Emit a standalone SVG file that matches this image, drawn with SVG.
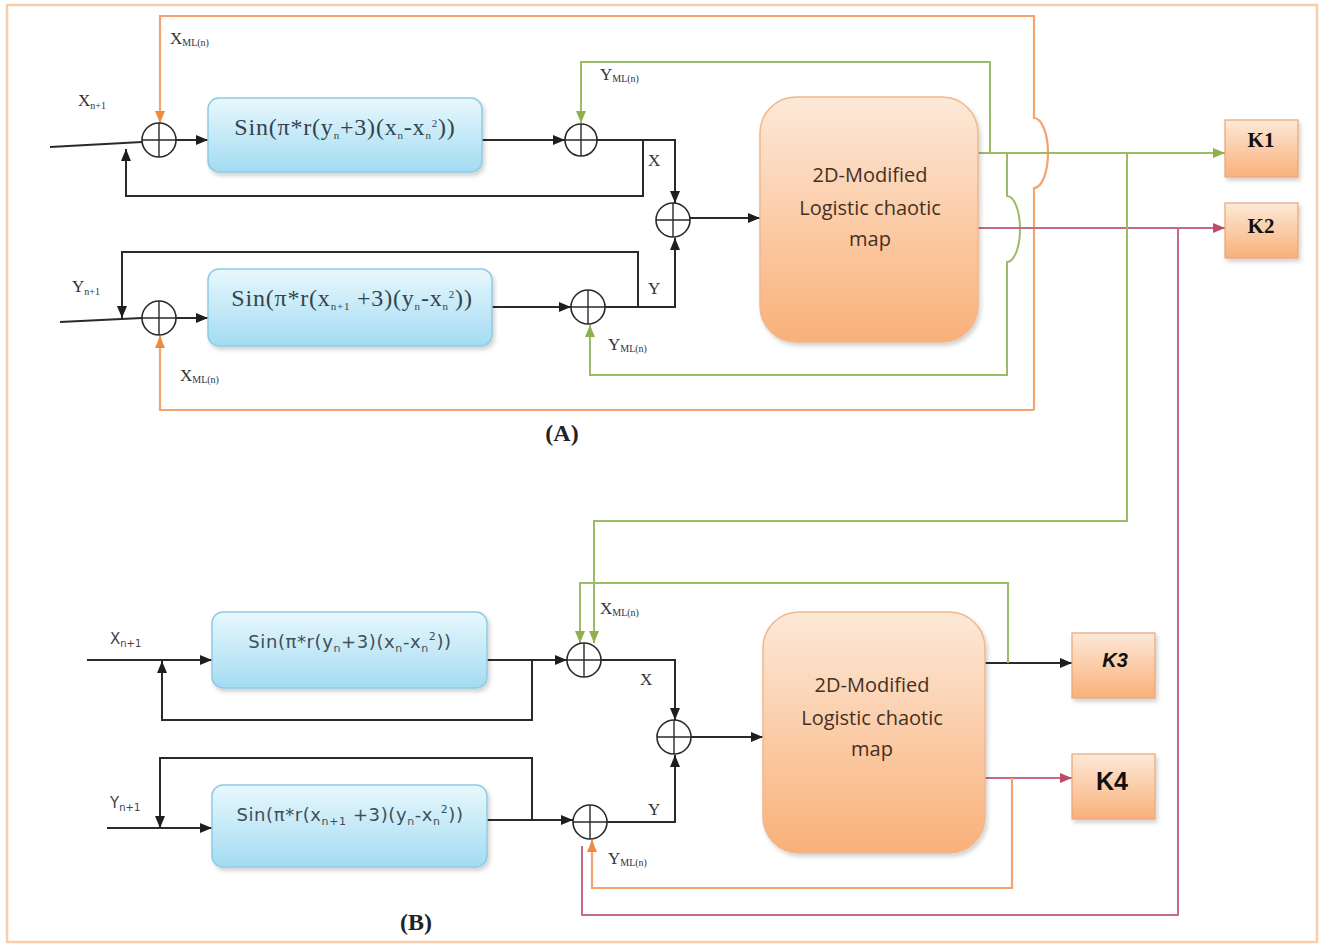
<svg xmlns="http://www.w3.org/2000/svg" width="1322" height="945" viewBox="0 0 1322 945">
<defs>
<linearGradient id="gBlue" x1="0" y1="0" x2="0" y2="1">
<stop offset="0" stop-color="#e8f8fd"/><stop offset="1" stop-color="#a3dbf2"/>
</linearGradient>
<linearGradient id="gOr" x1="0" y1="0" x2="0" y2="1">
<stop offset="0" stop-color="#fde9d8"/><stop offset="1" stop-color="#f9b079"/>
</linearGradient>
<filter id="sh" x="-10%" y="-10%" width="130%" height="130%">
<feDropShadow dx="2" dy="3" stdDeviation="2" flood-color="#000" flood-opacity="0.18"/>
</filter>
<marker id="ak" viewBox="0 0 12 10" refX="12" refY="5" markerWidth="12" markerHeight="10" markerUnits="userSpaceOnUse" orient="auto"><path d="M0,0 L12,5 L0,10 z" fill="#1e1e1e"/></marker>
<marker id="ag" viewBox="0 0 12 10" refX="12" refY="5" markerWidth="12" markerHeight="10" markerUnits="userSpaceOnUse" orient="auto"><path d="M0,0 L12,5 L0,10 z" fill="#8fb04f"/></marker>
<marker id="ao" viewBox="0 0 12 10" refX="12" refY="5" markerWidth="12" markerHeight="10" markerUnits="userSpaceOnUse" orient="auto"><path d="M0,0 L12,5 L0,10 z" fill="#ee8a3c"/></marker>
<marker id="ar" viewBox="0 0 12 10" refX="12" refY="5" markerWidth="12" markerHeight="10" markerUnits="userSpaceOnUse" orient="auto"><path d="M0,0 L12,5 L0,10 z" fill="#bf4a6a"/></marker>
<style>
.ln{fill:none;stroke:#2a2a2a;stroke-width:2}
.g{fill:none;stroke:#9bbb68;stroke-width:2}
.o{fill:none;stroke:#f2a46c;stroke-width:2.2}
.r{fill:none;stroke:#c76a84;stroke-width:2}
.add circle{fill:#fff;stroke:#2a2a2a;stroke-width:1.6}
.add path{stroke:#2a2a2a;stroke-width:1.4;fill:none}
.fbox{fill:url(#gBlue);stroke:#8fcbe2;stroke-width:1.5;filter:url(#sh)}
.mbox{fill:url(#gOr);stroke:#f2b68a;stroke-width:1.5;filter:url(#sh)}
.kbox{fill:url(#gOr);stroke:#eaa676;stroke-width:1.2;filter:url(#sh)}
.fa{font-family:"Liberation Serif",serif;font-size:24px;letter-spacing:0.8px;fill:#33434d}
.fb{font-family:"DejaVu Sans",sans-serif;font-size:18px;letter-spacing:0.6px;fill:#3f4f57}
.sb{font-size:11px}
.mt{font-family:"Open Sans","Liberation Sans",sans-serif;font-size:20px;fill:#45301f;text-anchor:middle}
.lbA{font-family:"Liberation Serif",serif;font-size:17px;fill:#333}
.lbB{font-family:"DejaVu Sans",sans-serif;font-size:15px;fill:#444}
.ml{font-size:10px}
.cap{font-family:"Liberation Serif",serif;font-size:24px;fill:#222;font-weight:bold;text-anchor:middle}
</style>
</defs>
<rect x="0" y="0" width="1322" height="945" fill="#ffffff"/>
<rect x="7" y="5" width="1310" height="937" fill="none" stroke="#f6cfae" stroke-width="2.5"/>

<!-- connectors -->
<g id="connectors">
<!-- (A) -->
<path class="ln" d="M50,147 L142,142"/>
<path class="ln" d="M643,140 V196 H126 V149" marker-end="url(#ak)"/>
<path class="ln" d="M176,140 H208" marker-end="url(#ak)"/>
<path class="ln" d="M482,140 H565" marker-end="url(#ak)"/>
<path class="ln" d="M597,140 H675 V203" marker-end="url(#ak)"/>
<path class="ln" d="M60,322 L142,318"/>
<path class="ln" d="M638,307 V252 H122 V318" marker-end="url(#ak)"/>
<path class="ln" d="M176,318 H208" marker-end="url(#ak)"/>
<path class="ln" d="M492,307 H571" marker-end="url(#ak)"/>
<path class="ln" d="M605,307 H675 V238" marker-end="url(#ak)"/>
<path class="ln" d="M690,218 H760" marker-end="url(#ak)"/>
<path class="o" d="M1034,410 V188 A14,35 0 0 0 1034,118 V16 H160 V123" marker-end="url(#ao)"/>
<path class="o" d="M1034,410 H160 V336" marker-end="url(#ao)"/>
<path class="g" d="M990,153 V62 H581 V123" marker-end="url(#ag)"/>
<path class="g" d="M1007,153 V196 A13,33 0 0 1 1007,262 V375 H590 V325" marker-end="url(#ag)"/>
<path class="g" d="M978,153 H1225" marker-end="url(#ag)"/>
<path class="r" d="M978,228 H1225" marker-end="url(#ar)"/>
<path class="g" d="M1127,153 V521 H594 V643" marker-end="url(#ag)"/>
<path class="r" d="M1178,228 V915 H582 V846"/>
<!-- (B) -->
<path class="ln" d="M87,660 H212" marker-end="url(#ak)"/>
<path class="ln" d="M532,660 V720 H162 V661" marker-end="url(#ak)"/>
<path class="ln" d="M487,660 H567" marker-end="url(#ak)"/>
<path class="ln" d="M107,828 H212" marker-end="url(#ak)"/>
<path class="ln" d="M532,820 V758 H160 V828" marker-end="url(#ak)"/>
<path class="ln" d="M487,820 H573" marker-end="url(#ak)"/>
<path class="ln" d="M601,660 H675 V720" marker-end="url(#ak)"/>
<path class="ln" d="M607,822 H675 V755" marker-end="url(#ak)"/>
<path class="ln" d="M691,737 H763" marker-end="url(#ak)"/>
<path class="ln" d="M985,663 H1072" marker-end="url(#ak)"/>
<path class="r" d="M985,778 H1072" marker-end="url(#ar)"/>
<path class="g" d="M1008,663 V583 H580 V643" marker-end="url(#ag)"/>
<path class="o" d="M1012,778 V888 H592 V840" marker-end="url(#ao)"/>
</g>

<!-- adders -->
<g id="adderA1" class="add"><circle cx="159" cy="140" r="17"/><path d="M142,140 H176 M159,123 V157"/></g>
<g id="adderA2" class="add"><circle cx="581" cy="140" r="16"/><path d="M565,140 H597 M581,124 V156"/></g>
<g id="adderA3" class="add"><circle cx="673" cy="220" r="17"/><path d="M656,220 H690 M673,203 V237"/></g>
<g id="adderA4" class="add"><circle cx="159" cy="318" r="17"/><path d="M142,318 H176 M159,301 V335"/></g>
<g id="adderA5" class="add"><circle cx="588" cy="307" r="17"/><path d="M571,307 H605 M588,290 V324"/></g>
<g id="adderB1" class="add"><circle cx="584" cy="660" r="17"/><path d="M567,660 H601 M584,643 V677"/></g>
<g id="adderB2" class="add"><circle cx="590" cy="822" r="17"/><path d="M573,822 H607 M590,805 V839"/></g>
<g id="adderB3" class="add"><circle cx="674" cy="737" r="17"/><path d="M657,737 H691 M674,720 V754"/></g>

<!-- function boxes -->
<g id="boxA1"><rect class="fbox" x="208" y="98" width="274" height="74" rx="11"/>
<text class="fa" x="345" y="135" text-anchor="middle">Sin(π*r(y<tspan class="sb" dy="4">n</tspan><tspan dy="-4">+3)(x</tspan><tspan class="sb" dy="4">n</tspan><tspan dy="-4">-x</tspan><tspan class="sb" dy="4">n</tspan><tspan class="sb" dy="-12">2</tspan><tspan dy="8">))</tspan></text></g>
<g id="boxA2"><rect class="fbox" x="208" y="269" width="284" height="77" rx="11"/>
<text class="fa" x="352" y="306" text-anchor="middle">Sin(π*r(x<tspan class="sb" dy="4">n+1</tspan><tspan dy="-4"> +3)(y</tspan><tspan class="sb" dy="4">n</tspan><tspan dy="-4">-x</tspan><tspan class="sb" dy="4">n</tspan><tspan class="sb" dy="-12">2</tspan><tspan dy="8">))</tspan></text></g>
<g id="boxB1"><rect class="fbox" x="212" y="612" width="275" height="76" rx="11"/>
<text class="fb" x="350" y="648" text-anchor="middle">Sin(π*r(y<tspan class="sb" dy="4">n</tspan><tspan dy="-4">+3)(x</tspan><tspan class="sb" dy="4">n</tspan><tspan dy="-4">-x</tspan><tspan class="sb" dy="4">n</tspan><tspan class="sb" dy="-12">2</tspan><tspan dy="8">))</tspan></text></g>
<g id="boxB2"><rect class="fbox" x="212" y="785" width="275" height="82" rx="11"/>
<text class="fb" x="350" y="821" text-anchor="middle">Sin(π*r(x<tspan class="sb" dy="4">n+1</tspan><tspan dy="-4"> +3)(y</tspan><tspan class="sb" dy="4">n</tspan><tspan dy="-4">-x</tspan><tspan class="sb" dy="4">n</tspan><tspan class="sb" dy="-12">2</tspan><tspan dy="8">))</tspan></text></g>

<!-- map boxes -->
<g id="mapA"><rect class="mbox" x="760" y="97" width="218" height="245" rx="36"/>
<text class="mt" x="870" y="182">2D-Modified</text>
<text class="mt" x="870" y="215">Logistic chaotic</text>
<text class="mt" x="870" y="246">map</text></g>
<g id="mapB"><rect class="mbox" x="763" y="612" width="222" height="241" rx="36"/>
<text class="mt" x="872" y="692">2D-Modified</text>
<text class="mt" x="872" y="725">Logistic chaotic</text>
<text class="mt" x="872" y="756">map</text></g>

<!-- key boxes -->
<g id="K1"><rect class="kbox" x="1225" y="120" width="73" height="57"/>
<text x="1261" y="147" text-anchor="middle" font-family="Liberation Serif, serif" font-size="21" font-weight="bold" fill="#111">K1</text></g>
<g id="K2"><rect class="kbox" x="1225" y="203" width="73" height="55"/>
<text x="1261" y="233" text-anchor="middle" font-family="Liberation Serif, serif" font-size="21" font-weight="bold" fill="#111">K2</text></g>
<g id="K3"><rect class="kbox" x="1072" y="633" width="83" height="65"/>
<text x="1115" y="667" text-anchor="middle" font-family="Liberation Sans, sans-serif" font-size="20" font-weight="bold" font-style="italic" fill="#111">K3</text></g>
<g id="K4"><rect class="kbox" x="1072" y="754" width="83" height="65"/>
<text x="1112" y="790" text-anchor="middle" font-family="Liberation Sans, sans-serif" font-size="25" font-weight="bold" fill="#111">K4</text></g>

<!-- labels -->
<g id="labels">
<text class="lbA" x="78" y="106">X<tspan class="ml" dy="3">n+1</tspan></text>
<text class="lbA" x="170" y="44">X<tspan class="ml" dy="2">ML(n)</tspan></text>
<text class="lbA" x="72" y="292">Y<tspan class="ml" dy="3">n+1</tspan></text>
<text class="lbA" x="180" y="381">X<tspan class="ml" dy="2">ML(n)</tspan></text>
<text class="lbA" x="600" y="80">Y<tspan class="ml" dy="2">ML(n)</tspan></text>
<text class="lbA" x="608" y="350">Y<tspan class="ml" dy="2">ML(n)</tspan></text>
<text class="lbA" x="648" y="166">X</text>
<text class="lbA" x="648" y="294">Y</text>
<text class="cap" x="562" y="441">(A)</text>
<text class="lbB" x="110" y="644">X<tspan class="ml" dy="3">n+1</tspan></text>
<text class="lbB" x="110" y="808">Y<tspan class="ml" dy="3">n+1</tspan></text>
<text class="lbA" x="600" y="614">X<tspan class="ml" dy="2">ML(n)</tspan></text>
<text class="lbA" x="608" y="864">Y<tspan class="ml" dy="2">ML(n)</tspan></text>
<text class="lbA" x="640" y="685" font-size="19">X</text>
<text class="lbA" x="648" y="815" font-size="19">Y</text>
<text class="cap" x="416" y="930">(B)</text>
</g>
</svg>
